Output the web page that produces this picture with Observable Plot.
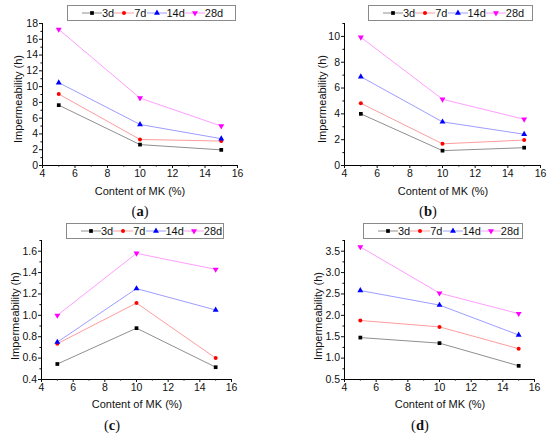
<!DOCTYPE html>
<html>
<head>
<meta charset="utf-8">
<script src="https://cdn.jsdelivr.net/npm/d3@7"></script>
<script src="https://cdn.jsdelivr.net/npm/@observablehq/plot@0.6"></script>
<style>
  body { margin: 0; background: #fff; font-family: "Liberation Sans", Arial, sans-serif; }
  #wrap { position: relative; width: 550px; height: 437px; overflow: hidden; background: #fff; }
  .panel { position: absolute; }
  .legend { position: absolute; border: 1px solid #8a8a8a; height: 16px; box-sizing: border-box;
            display: flex; align-items: center; font-size: 11px; padding-left: 14px; color: #111; background: #fff; }
  .item { display: flex; align-items: center; margin-right: 0px; }
  .item svg { display: block; }
  .xlab, .ylab { position: absolute; font-size: 11px; white-space: nowrap; color: #111; }
  .xlab { transform: translate(-50%, -50%); }
  .ylab { transform: translate(-50%, -50%) rotate(-90deg); }
  .cap { position: absolute; font-family: "Liberation Serif", "Times New Roman", serif; font-size: 14.5px;
         transform: translate(-50%, -50%); color: #111; }
</style>
</head>
<body>
<div id="wrap"></div>
<script>
// ---------------- data ----------------
const mkContent = [5, 10, 15];
const curingAges = ["3d", "7d", "14d", "28d"];
const xTicks = [4, 6, 8, 10, 12, 14, 16];
const xMinorTicks = [5, 7, 9, 11, 13, 15];

// (a)
const valuesA = [
  [7.65, 2.65, 1.98],
  [9.05, 3.3, 3.1],
  [10.5, 5.2, 3.4],
  [17.25, 8.55, 5.0]
];
const yDomainA = [0, 18];
const yTicksA = [0, 2, 4, 6, 8, 10, 12, 14, 16, 18];
const yMinorA = [1, 3, 5, 7, 9, 11, 13, 15, 17];

// (b)
const valuesB = [
  [4.0, 1.15, 1.38],
  [4.82, 1.68, 1.97],
  [6.88, 3.38, 2.42],
  [9.93, 5.13, 3.58]
];
const yDomainB = [0, 11];
const yTicksB = [0, 2, 4, 6, 8, 10];
const yMinorB = [1, 3, 5, 7, 9, 11];

// (c)
const valuesC = [
  [0.545, 0.88, 0.515],
  [0.735, 1.115, 0.60],
  [0.75, 1.25, 1.05],
  [1.0, 1.58, 1.43]
];
const yDomainC = [0.4, 1.7];
const yTicksC = [0.4, 0.6, 0.8, 1.0, 1.2, 1.4, 1.6];
const yMinorC = [0.5, 0.7, 0.9, 1.1, 1.3, 1.5, 1.7];

// (d)
const valuesD = [
  [1.48, 1.35, 0.82],
  [1.88, 1.73, 1.22],
  [2.58, 2.24, 1.54],
  [3.6, 2.52, 2.04]
];
const yDomainD = [0.5, 3.75];
const yTicksD = [0.5, 1.0, 1.5, 2.0, 2.5, 3.0, 3.5];
const yMinorD = [0.75, 1.25, 1.75, 2.25, 2.75, 3.25, 3.75];

const panelLetters = ["a", "b", "c", "d"];
const xLabel = "Content of MK (%)";
const yLabel = "Impermeability (h)";

// ---------------- styles ----------------
const markerColors = ["#000000", "#ff0000", "#0000ff", "#ff00ff"];
const lineColors = ["#8f8f8f", "#ff9d9d", "#9d9dff", "#ff9dff"];
const markerSymbols = ["square", "circle", "triangle", "triangle"];
const markerRotate = [0, 0, 0, 180];
const markerR = [2.1, 2.0, 2.2, 2.2];

const panels = [
  { values: valuesA, yDomain: yDomainA, yTicks: yTicksA, yMinor: yMinorA, yFmt: d3.format("d"),
    left: 0, top: 0, w: 275, h: 215, m: [23, 38, 50, 42],
    legend: [67, 5, 169], xlab: [140, 191], ylab: [18, 99], cap: [140, 211] },
  { values: valuesB, yDomain: yDomainB, yTicks: yTicksB, yMinor: yMinorB, yFmt: d3.format("d"),
    left: 275, top: 0, w: 275, h: 215, m: [23, 10, 50, 69],
    legend: [368, 5, 165], xlab: [443, 191], ylab: [322, 99], cap: [428, 211] },
  { values: valuesC, yDomain: yDomainC, yTicks: yTicksC, yMinor: yMinorC, yFmt: d3.format(".1f"),
    left: 0, top: 215, w: 275, h: 222, m: [25, 44, 58, 41],
    legend: [66, 223, 158], xlab: [137, 404], ylab: [15, 316], cap: [112, 425] },
  { values: valuesD, yDomain: yDomainD, yTicks: yTicksD, yMinor: yMinorD, yFmt: d3.format(".1f"),
    left: 275, top: 215, w: 275, h: 222, m: [25, 16, 58, 69],
    legend: [363, 223, 160], xlab: [440, 404], ylab: [318, 316], cap: [420, 425] }
];

const wrap = document.getElementById("wrap");

function swatch(i) {
  const s = d3.create("svg").attr("width", 20).attr("height", 10);
  s.append("line").attr("x1", 0).attr("x2", 20).attr("y1", 5).attr("y2", 5)
    .attr("stroke", lineColors[i]).attr("stroke-width", 1);
  const sym = d3.symbol(markerSymbols[i] === "square" ? d3.symbolSquare :
                        markerSymbols[i] === "circle" ? d3.symbolCircle : d3.symbolTriangle,
                        Math.PI * markerR[i] * markerR[i]);
  s.append("path").attr("d", sym()).attr("fill", markerColors[i])
    .attr("transform", `translate(10,5) rotate(${markerRotate[i]})`);
  return s.node();
}

panels.forEach((p, k) => {
  const rows = [];
  p.values.forEach((series, i) => series.forEach((v, j) =>
    rows.push({ content: mkContent[j], value: v, age: curingAges[i], idx: i })));

  const marks = [
    Plot.ruleX([xTicks[0]], { stroke: "#000", strokeWidth: 1 }),
    Plot.ruleY([p.yDomain[0]], { stroke: "#000", strokeWidth: 1 }),
    Plot.axisX({ ticks: xTicks, tickSize: 3, tickPadding: 1.5, fontSize: 10.5, label: null, tickFormat: d3.format("d") }),
    Plot.axisX({ ticks: xMinorTicks, tickSize: 1.6, tickFormat: () => "", label: null }),
    Plot.axisY({ ticks: p.yTicks, tickSize: 3, tickPadding: 1.5, fontSize: 10.5, label: null, tickFormat: p.yFmt }),
    Plot.axisY({ ticks: p.yMinor, tickSize: 1.6, tickFormat: () => "", label: null })
  ];
  curingAges.forEach((age, i) => {
    const sub = rows.filter(d => d.age === age);
    marks.push(Plot.line(sub, { x: "content", y: "value", stroke: lineColors[i], strokeWidth: 1 }));
  });
  curingAges.forEach((age, i) => {
    const sub = rows.filter(d => d.age === age);
    marks.push(Plot.dot(sub, { x: "content", y: "value", symbol: markerSymbols[i], r: markerR[i],
      fill: markerColors[i], stroke: "none", rotate: markerRotate[i] }));
  });

  const chart = Plot.plot({
    width: p.w, height: p.h,
    marginTop: p.m[0], marginRight: p.m[1], marginBottom: p.m[2], marginLeft: p.m[3],
    style: { fontFamily: "'Liberation Sans', Arial, sans-serif", color: "#111", background: "transparent", overflow: "visible" },
    x: { domain: [4, 16] },
    y: { domain: p.yDomain },
    marks
  });
  chart.classList.add("panel");
  chart.style.left = p.left + "px";
  chart.style.top = p.top + "px";
  wrap.appendChild(chart);

  // legend
  const lg = document.createElement("div");
  lg.className = "legend";
  lg.style.left = p.legend[0] + "px";
  lg.style.top = p.legend[1] + "px";
  lg.style.width = p.legend[2] + "px";
  curingAges.forEach((age, i) => {
    const it = document.createElement("div");
    it.className = "item";
    it.appendChild(swatch(i));
    const t = document.createElement("span");
    t.textContent = age;
    it.appendChild(t);
    lg.appendChild(it);
  });
  wrap.appendChild(lg);

  const xl = document.createElement("div");
  xl.className = "xlab"; xl.textContent = xLabel;
  xl.style.left = p.xlab[0] + "px"; xl.style.top = p.xlab[1] + "px";
  wrap.appendChild(xl);

  const yl = document.createElement("div");
  yl.className = "ylab"; yl.textContent = yLabel;
  yl.style.left = p.ylab[0] + "px"; yl.style.top = p.ylab[1] + "px";
  wrap.appendChild(yl);

  const cp = document.createElement("div");
  cp.className = "cap";
  cp.innerHTML = `(<b>${panelLetters[k]}</b>)`;
  cp.style.left = p.cap[0] + "px"; cp.style.top = p.cap[1] + "px";
  wrap.appendChild(cp);
});
</script>
</body>
</html>
